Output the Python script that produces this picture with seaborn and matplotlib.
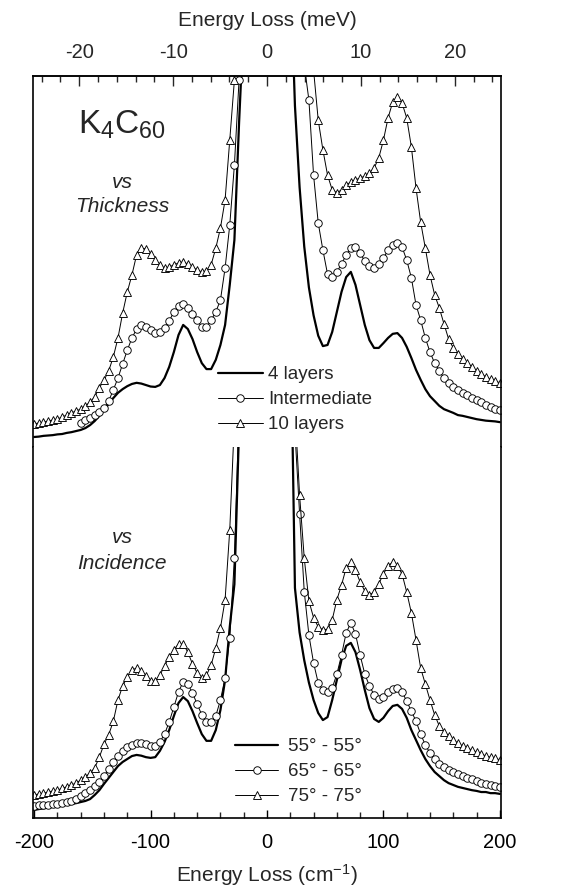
import numpy as np
import pandas as pd
import matplotlib
matplotlib.use("Agg")
import matplotlib.pyplot as plt
from matplotlib.lines import Line2D
from matplotlib.ticker import MultipleLocator, FixedLocator
import seaborn as sns

sns.set_theme(style="ticks")
plt.rcParams["font.family"] = ["Liberation Sans", "DejaVu Sans"]
plt.rcParams["mathtext.fontset"] = "custom"
plt.rcParams["mathtext.rm"] = "Liberation Sans"
plt.rcParams["mathtext.it"] = "Liberation Sans:italic"
plt.rcParams["axes.unicode_minus"] = False

# ---------------- data (energy loss in cm^-1, intensity in arb. units) -------------
X_LEFT = list(range(-200, -19, 4))   # -200 ... -20
X_RIGHT = list(range(20, 201, 4))    #   20 ... 200
NA = np.nan

# --- vs Thickness (upper group) ---
thk_4layers_left = [2.7, 2.8, 3.0, 3.1, 3.2, 3.4, 3.5, 3.8, 4.0, 4.3,
                    4.6, 5.1, 5.9, 7.0, 8.4, 10.0, 11.6, 13.2, 14.6, 15.6,
                    16.4, 17.0, 17.3, 17.1, 16.7, 16.3, 16.2, 16.7, 18.6, 21.6,
                    25.6, 30.2, 32.9, 31.8, 29.1, 25.6, 22.6, 21.0, 21.0, 23.5,
                    27.5, 32.9, 43.7, 55.8, 87.3, 115]
thk_4layers_right = [130, 92, 70, 54, 43, 35.5, 30, 27.2, 27.5, 31.0,
                     36.4, 41.8, 45.8, 47.2, 43.7, 38.3, 32.9, 28.8, 26.7, 26.7,
                     28.0, 29.4, 30.5, 30.7, 29.4, 27.0, 24.0, 20.8, 18.1, 15.6,
                     13.7, 12.4, 11.1, 10.2, 9.7, 9.2, 8.6, 8.4, 8.1, 7.8,
                     7.5, 7.3, 7.1, 7.0, 6.9, 6.7]
thk_inter_left = [NA, NA, NA, NA, NA, NA, NA, NA, NA, NA,
                  6.5, 7.3, 7.8, 8.6, 9.4, 10.5, 12.4, 15.4, 18.6, 22.4,
                  26.1, 29.4, 31.8, 32.9, 32.3, 31.5, 30.7, 31.0, 32.1, 34.0,
                  36.4, 38.0, 38.5, 37.5, 35.8, 34.2, 32.3, 32.3, 34.2, 36.4,
                  39.6, 48.2, 59.8, 76.0, 98.9, 130]
thk_inter_right = [NA, NA, 130, 103, 93.5, 73.3, 60.4, 53.1, 46.6, 45.8,
                   47.2, 49.3, 51.8, 53.6, 53.9, 52.3, 50.1, 48.8, 48.2, 49.3,
                   50.9, 53.1, 54.4, 55.0, 53.9, 50.4, 45.6, 38.3, 34.2, 29.4,
                   25.6, 22.6, 20.5, 18.6, 17.3, 16.2, 15.4, 14.6, 14.0, 13.2,
                   12.7, 12.1, 11.3, 10.8, 10.2, 10.0]
thk_10layers_left = [6.2, 6.5, 6.7, 7.0, 7.3, 7.5, 8.1, 8.6, 9.2, 9.7,
                     10.2, 11.1, 12.1, 13.5, 16.0, 18.0, 20.5, 24.3, 29.4, 36.1,
                     41.8, 46.4, 51.8, 53.6, 53.4, 52.0, 50.4, 49.1, 48.2, 48.5,
                     49.1, 49.6, 49.9, 49.3, 48.5, 47.7, 47.2, 47.4, 49.1, 53.6,
                     59.0, 66.6, 82.7, 98.9, 115, 140]
thk_10layers_right = [NA, NA, NA, NA, 130, 101.6, 88.1, 80.1, 73.3, 69.3,
                      68.5, 69.3, 70.6, 71.4, 72.0, 72.5, 73.0, 73.9, 75.2, 77.9,
                      82.7, 88.7, 93.0, 94.3, 92.7, 88.7, 80.9, 69.8, 60.6, 53.6,
                      46.4, 41.0, 37.5, 33.2, 29.1, 26.7, 25.1, 23.7, 22.6, 21.6,
                      20.5, 19.7, 18.9, 18.3, 17.8, 17.3]

# --- vs Incidence (lower group) ---
inc_55_left = [2.2, 2.4, 2.6, 2.8, 3.0, 3.2, 3.4, 3.6, 3.8, 4.0,
               4.3, 4.6, 5.1, 6.2, 7.5, 9.2, 10.8, 12.4, 14.0, 15.1,
               15.9, 16.7, 17.0, 16.8, 16.4, 16.2, 16.4, 18.1, 20.5, 23.7,
               27.5, 31.0, 32.6, 31.5, 28.8, 25.6, 22.6, 20.8, 20.8, 23.7,
               29.1, 37.2, 51.5, 63, 105, 140]
inc_55_right = [140, 62, 50, 42.5, 36.5, 31.8, 28.3, 26.4, 27.2, 31.8,
                37.2, 42.6, 46.4, 47.2, 44.7, 39.9, 34.5, 29.6, 26.7, 25.9,
                27.0, 28.8, 30.2, 30.5, 29.4, 27.0, 23.7, 21.0, 18.3, 15.9,
                14.0, 12.4, 11.3, 10.2, 9.4, 8.9, 8.4, 8.1, 7.8, 7.5,
                7.3, 7.0, 7.0, 6.7, 6.7, 6.5]
inc_65_left = [3.2, 3.4, 3.5, 3.6, 3.8, 3.9, 4.0, 4.3, 4.7, 5.1,
               5.8, 6.7, 7.5, 8.6, 9.7, 11.3, 13.2, 15.1, 16.7, 18.1,
               19.1, 19.7, 20.1, 20.2, 19.9, 19.4, 19.4, 20.5, 22.6, 25.9,
               29.9, 34.0, 36.7, 36.1, 33.7, 30.7, 27.8, 25.9, 25.9, 27.5,
               31.8, 37.7, 48.5, 70, 110, 140]
inc_65_right = [NA, 104, 82, 61, 49.3, 41.8, 36.4, 34.5, 34.0, 35.0,
                38.8, 43.9, 49.9, 52.6, 49.6, 43.9, 38.8, 35.6, 33.2, 32.1,
                32.6, 34.0, 34.8, 35.0, 34.0, 31.5, 28.8, 26.1, 22.6, 19.7,
                17.5, 15.9, 14.6, 13.7, 12.9, 12.4, 11.9, 11.3, 10.8, 10.5,
                10.0, 9.4, 9.2, 8.9, 8.6, 8.4]
inc_75_left = [6.2, 6.5, 6.7, 7.0, 7.3, 7.5, 8.0, 8.4, 8.9, 9.4,
               10.2, 11.1, 12.1, 13.5, 16.4, 19.9, 22.4, 26.1, 31.8, 35.6,
               38.0, 39.9, 40.4, 39.6, 38.3, 36.9, 36.9, 38.5, 41.0, 43.4,
               45.3, 46.9, 46.9, 44.7, 41.5, 39.1, 37.7, 38.5, 41.2, 45.8,
               51.2, 58.8, 77.6, 107, 140, NA]
inc_75_right = [NA, 110, 87, 70, 58.5, 54.0, 51.5, 50.7, 50.9, 53.4,
                58.8, 62.8, 67.4, 69.0, 66.8, 63.6, 61.2, 60.1, 60.9, 63.1,
                65.8, 67.9, 69.0, 67.9, 65.8, 60.9, 55.3, 48.0, 40.4, 36.1,
                31.8, 27.8, 24.8, 23.2, 22.1, 21.0, 20.2, 19.4, 18.9, 18.3,
                17.8, 17.3, 16.7, 16.4, 16.2, 15.6]

thk_labels = ["4 layers", "Intermediate", "10 layers"]
inc_labels = ["55\u00b0 - 55\u00b0", "65\u00b0 - 65\u00b0", "75\u00b0 - 75\u00b0"]
mev_ticks = [-20, -10, 0, 10, 20]
cm_ticks = [-200, -100, 0, 100, 200]
CM_PER_MEV = 8.0655

# ---------------- build long table ----------------
rows = []
def add(series, left, right):
    for x, y in zip(X_LEFT, left):
        rows.append((series, "L", x, y))
    for x, y in zip(X_RIGHT, right):
        rows.append((series, "R", x, y))

add("thk_4", thk_4layers_left, thk_4layers_right)
add("thk_i", thk_inter_left, thk_inter_right)
add("thk_10", thk_10layers_left, thk_10layers_right)
add("inc_55", inc_55_left, inc_55_right)
add("inc_65", inc_65_left, inc_65_right)
add("inc_75", inc_75_left, inc_75_right)
df = pd.DataFrame(rows, columns=["series", "side", "x", "y"]).dropna()

# ---------------- figure ----------------
W, H = 566, 894
fig = plt.figure(figsize=(W / 100, H / 100), dpi=100)
L, R = 33, 501
ax_top = fig.add_axes([L / W, (H - 447) / H, (R - L) / W, 371 / H])
ax_bot = fig.add_axes([L / W, (H - 818) / H, (R - L) / W, 371 / H])

solid_kw = dict(color="black", lw=1.6)
circ_kw = dict(color="black", lw=0.7, marker="o", markersize=5.4,
               markerfacecolor="white", markeredgecolor="black", markeredgewidth=0.65)
tri_kw = dict(color="black", lw=0.7, marker="^", markersize=5.8,
              markerfacecolor="white", markeredgecolor="black", markeredgewidth=0.65)

def draw(ax, name, kw):
    sub = df[df.series == name]
    sns.lineplot(data=sub, x="x", y="y", units="side", estimator=None,
                 ax=ax, legend=False, **kw)

draw(ax_top, "thk_4", solid_kw)
draw(ax_top, "thk_i", circ_kw)
draw(ax_top, "thk_10", tri_kw)
draw(ax_bot, "inc_55", solid_kw)
draw(ax_bot, "inc_65", circ_kw)
draw(ax_bot, "inc_75", tri_kw)

for ax in (ax_top, ax_bot):
    ax.set_xlim(-201, 201)
    ax.set_ylim(0, 100)
    ax.set_yticks([])
    ax.set_xlabel("")
    ax.set_ylabel("")
    for s in ax.spines.values():
        s.set_linewidth(1.2)
        s.set_color("black")

ax_top.spines["bottom"].set_visible(False)
ax_bot.spines["top"].set_visible(False)
ax_top.tick_params(axis="x", which="both", bottom=False, top=False,
                   labelbottom=False, labeltop=False)

ax_bot.xaxis.set_major_locator(FixedLocator(cm_ticks))
ax_bot.xaxis.set_minor_locator(MultipleLocator(20))
ax_bot.tick_params(axis="x", which="major", direction="in", length=6, width=1,
                   top=False, labelsize=14.5, pad=11, colors="black")
ax_bot.tick_params(axis="x", which="minor", direction="in", length=4, width=1, top=False)
ax_bot.set_xlabel("Energy Loss (cm$^{-1}$)", fontsize=15, labelpad=7)

sec = ax_top.secondary_xaxis("top", functions=(lambda v: v / CM_PER_MEV,
                                               lambda v: v * CM_PER_MEV))
sec.xaxis.set_major_locator(FixedLocator(mev_ticks))
sec.xaxis.set_minor_locator(MultipleLocator(2))
sec.tick_params(axis="x", which="major", direction="in", length=7, width=1,
                labelsize=14.5, pad=10)
sec.tick_params(axis="x", which="minor", direction="in", length=4, width=1)
sec.spines["top"].set_linewidth(1.2)
sec.set_xlabel("Energy Loss (meV)", fontsize=15, labelpad=12)

# annotations
ax_top.text(0.19, 0.846, "K$_4$C$_{60}$", transform=ax_top.transAxes,
            ha="center", va="baseline", fontsize=24)
ax_top.text(0.19, 0.712, "vs", transform=ax_top.transAxes, ha="center",
            va="center", fontsize=15, style="italic")
ax_top.text(0.19, 0.647, "Thickness", transform=ax_top.transAxes, ha="center",
            va="center", fontsize=15, style="italic")
ax_bot.text(0.19, 0.757, "vs", transform=ax_bot.transAxes, ha="center",
            va="center", fontsize=15, style="italic")
ax_bot.text(0.19, 0.687, "Incidence", transform=ax_bot.transAxes, ha="center",
            va="center", fontsize=15, style="italic")

def handles():
    return [Line2D([], [], **solid_kw),
            Line2D([], [], **circ_kw),
            Line2D([], [], **tri_kw)]

ax_top.legend(handles(), thk_labels, loc="upper left", bbox_to_anchor=(0.395, 0.218),
              frameon=False, fontsize=13.5, borderpad=0, borderaxespad=0,
              handlelength=2.4, handletextpad=0.3, labelspacing=0.42, numpoints=1)
ax_bot.legend(handles(), inc_labels, loc="upper left", bbox_to_anchor=(0.432, 0.215),
              frameon=False, fontsize=13.5, borderpad=0, borderaxespad=0,
              handlelength=2.3, handletextpad=0.5, labelspacing=0.42, numpoints=1)

fig.savefig("out.png", dpi=100)
